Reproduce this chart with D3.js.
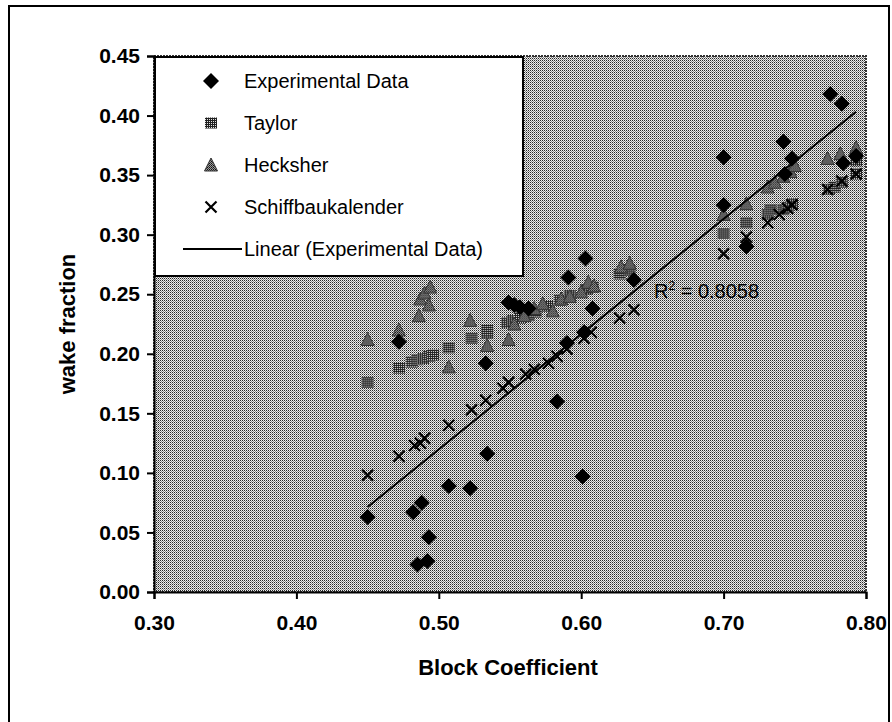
<!DOCTYPE html>
<html>
<head>
<meta charset="utf-8">
<script src="https://cdn.jsdelivr.net/npm/d3@7"></script>
<style>
  body { margin: 0; background: #fff; }
  svg { display: block; }
  text { font-family: "Liberation Sans", Arial, sans-serif; fill: #000; }
</style>
</head>
<body>
<svg id="chart" width="892" height="722"></svg>
<script>
// Axis ticks
const xTicks = [0.30, 0.40, 0.50, 0.60, 0.70, 0.80];
const yTicks = [0.00, 0.05, 0.10, 0.15, 0.20, 0.25, 0.30, 0.35, 0.40, 0.45];

// [block coefficient, wake fraction]
const experimental = [
  [0.450, 0.063], [0.482, 0.067], [0.488, 0.075], [0.493, 0.046], [0.485, 0.023],
  [0.492, 0.026], [0.472, 0.210], [0.507, 0.089], [0.522, 0.087], [0.533, 0.192],
  [0.534, 0.116], [0.549, 0.243], [0.553, 0.241], [0.557, 0.239], [0.563, 0.238],
  [0.583, 0.160], [0.590, 0.209], [0.591, 0.264], [0.601, 0.097], [0.602, 0.218],
  [0.603, 0.280], [0.608, 0.238], [0.637, 0.262], [0.700, 0.365], [0.700, 0.325],
  [0.716, 0.290], [0.742, 0.378], [0.743, 0.351], [0.748, 0.364], [0.775, 0.418],
  [0.783, 0.410], [0.784, 0.360], [0.793, 0.366]
];
const taylor = [
  [0.450, 0.176], [0.472, 0.188], [0.481, 0.193], [0.485, 0.195], [0.489, 0.196],
  [0.493, 0.198], [0.496, 0.199], [0.507, 0.205], [0.523, 0.213], [0.534, 0.217],
  [0.534, 0.220], [0.548, 0.226], [0.552, 0.228], [0.557, 0.230], [0.563, 0.232],
  [0.568, 0.235], [0.576, 0.240], [0.585, 0.245], [0.592, 0.249], [0.604, 0.254],
  [0.608, 0.256], [0.627, 0.267], [0.634, 0.270], [0.700, 0.301], [0.716, 0.310],
  [0.731, 0.317], [0.733, 0.321], [0.742, 0.321], [0.745, 0.323], [0.748, 0.326],
  [0.774, 0.338], [0.778, 0.340], [0.783, 0.344], [0.793, 0.351], [0.793, 0.362]
];
const heckscher = [
  [0.450, 0.212], [0.472, 0.220], [0.486, 0.232], [0.487, 0.246], [0.490, 0.251],
  [0.493, 0.241], [0.494, 0.256], [0.507, 0.189], [0.522, 0.228], [0.534, 0.207],
  [0.549, 0.212], [0.553, 0.225], [0.560, 0.232], [0.567, 0.238], [0.573, 0.242],
  [0.580, 0.236], [0.586, 0.246], [0.592, 0.248], [0.600, 0.252], [0.605, 0.260],
  [0.609, 0.257], [0.628, 0.273], [0.634, 0.276], [0.700, 0.317], [0.716, 0.326],
  [0.731, 0.340], [0.736, 0.344], [0.742, 0.349], [0.747, 0.353], [0.750, 0.358],
  [0.773, 0.364], [0.782, 0.368], [0.793, 0.373]
];
const schiffbau = [
  [0.450, 0.098], [0.472, 0.114], [0.483, 0.123], [0.487, 0.125], [0.490, 0.129],
  [0.507, 0.140], [0.523, 0.153], [0.533, 0.161], [0.545, 0.171], [0.549, 0.176],
  [0.561, 0.183], [0.567, 0.187], [0.577, 0.192], [0.583, 0.198], [0.590, 0.204],
  [0.602, 0.213], [0.607, 0.218], [0.627, 0.230], [0.637, 0.237], [0.700, 0.284],
  [0.716, 0.298], [0.731, 0.310], [0.739, 0.317], [0.745, 0.322], [0.748, 0.325],
  [0.773, 0.338], [0.783, 0.345], [0.793, 0.351]
];

// Linear trend of the experimental data: [slope, intercept]
const trendCoef = [0.9675, -0.364];

const legendLabels = ["Experimental Data", "Taylor", "Hecksher", "Schiffbaukalender", "Linear (Experimental Data)"];
const rSquaredText = "0.8058";

const svg = d3.select("#chart");
const plot = { left: 154, right: 866, top: 56, bottom: 592 };

const x = d3.scaleLinear().domain([0.30, 0.80]).range([plot.left, plot.right]);
const y = d3.scaleLinear().domain([0, 0.45]).range([plot.bottom, plot.top]);

// Dithered fills
const defs = svg.append("defs");
function pattern(id, bg, dots) {
  const p = defs.append("pattern").attr("id", id)
    .attr("width", 2).attr("height", 2).attr("patternUnits", "userSpaceOnUse");
  p.append("rect").attr("width", 2).attr("height", 2).attr("fill", bg);
  dots.forEach(([dx, dy, c]) => p.append("rect").attr("x", dx).attr("y", dy)
    .attr("width", 1).attr("height", 1).attr("fill", c));
}
pattern("plotFill", "#ececec", [[0, 0, "#262626"], [1, 1, "#8a8a8a"]]);
pattern("taylorFill", "#202020", [[0, 0, "#e0e0e0"]]);
pattern("heckFill", "#9a9a9a", [[0, 0, "#111111"], [1, 1, "#333333"]]);

// Outer frame
svg.append("path")
  .attr("d", "M9,722 L9,6 L889,6 L889,722")
  .attr("fill", "none").attr("stroke", "#000").attr("stroke-width", 2);

// Plot area
svg.append("rect")
  .attr("x", plot.left).attr("y", plot.top)
  .attr("width", plot.right - plot.left).attr("height", plot.bottom - plot.top)
  .attr("fill", "url(#plotFill)")
  .attr("stroke", "#333").attr("stroke-width", 2).attr("stroke-dasharray", "2,1");

// Axes
const yAxis = d3.axisLeft(y).tickValues(yTicks).tickFormat(d3.format(".2f"))
  .tickSize(7).tickPadding(7);
const xAxis = d3.axisBottom(x).tickValues(xTicks).tickFormat(d3.format(".2f"))
  .tickSize(7).tickPadding(16);

function styleAxis(g) {
  g.select(".domain").attr("stroke", "#000").attr("stroke-width", 2);
  g.selectAll(".tick line").attr("stroke", "#000").attr("stroke-width", 2);
  g.selectAll(".tick text").style("font-size", "21px").style("font-weight", "bold")
    .style("font-family", "'Liberation Sans', Arial, sans-serif").attr("fill", "#000");
}
svg.append("g").attr("transform", `translate(${plot.left},0)`).call(yAxis).call(styleAxis);
svg.append("g").attr("transform", `translate(0,${plot.bottom})`).call(xAxis).call(styleAxis);

// Axis titles
svg.append("text")
  .attr("transform", `translate(67,324) rotate(-90)`)
  .attr("text-anchor", "middle").attr("dy", "0.35em")
  .style("font-size", "22px").style("font-weight", "bold")
  .text("wake fraction");
svg.append("text")
  .attr("x", 508).attr("y", 675)
  .attr("text-anchor", "middle")
  .style("font-size", "22px").style("font-weight", "bold")
  .text("Block Coefficient");

// Marker shapes
const shapes = {
  diamond: g => g.append("path").attr("d", "M0,-8 L8,0 L0,8 L-8,0 Z").attr("fill", "#000"),
  square: g => g.append("rect").attr("x", -6).attr("y", -5.5).attr("width", 12).attr("height", 11)
    .attr("fill", "url(#taylorFill)"),
  triangle: g => g.append("path").attr("d", "M0,-7 L6.5,6 L-6.5,6 Z")
    .attr("fill", "url(#heckFill)").attr("stroke", "#333").attr("stroke-width", 1),
  cross: g => g.append("path").attr("d", "M-5.5,-5.5 L5.5,5.5 M-5.5,5.5 L5.5,-5.5")
    .attr("stroke", "#000").attr("stroke-width", 2.2).attr("fill", "none")
};

function drawSeries(data, shape) {
  const g = svg.append("g");
  g.selectAll("g").data(data).join("g")
    .attr("transform", d => `translate(${x(d[0])},${y(d[1])})`)
    .each(function () { shapes[shape](d3.select(this)); });
}
drawSeries(taylor, "square");
drawSeries(heckscher, "triangle");
drawSeries(schiffbau, "cross");
drawSeries(experimental, "diamond");

// Trend line over the range of the experimental data
const [x0, x1] = d3.extent(experimental, d => d[0]);
svg.append("path")
  .datum([x0, x1])
  .attr("d", d3.line().x(d => x(d)).y(d => y(trendCoef[0] * d + trendCoef[1])))
  .attr("stroke", "#000").attr("stroke-width", 2).attr("fill", "none");

// R² label
const r2 = svg.append("text").attr("x", 654).attr("y", 298).style("font-size", "20px").attr("fill", "#111");
r2.append("tspan").text("R");
r2.append("tspan").attr("dy", -8).style("font-size", "12px").text("2");
r2.append("tspan").attr("dy", 8).text(" = " + rSquaredText);

// Legend
const legend = svg.append("g");
legend.append("rect")
  .attr("x", 155).attr("y", 57).attr("width", 368).attr("height", 219)
  .attr("fill", "#fff").attr("stroke", "#000").attr("stroke-width", 2);
const rowY = [81, 123, 165, 207, 249];
const legendShapes = ["diamond", "square", "triangle", "cross"];
legendShapes.forEach((s, i) => {
  const g = legend.append("g").attr("transform", `translate(211,${rowY[i]})`);
  shapes[s](g);
});
legend.append("line")
  .attr("x1", 183).attr("x2", 242).attr("y1", rowY[4]).attr("y2", rowY[4])
  .attr("stroke", "#000").attr("stroke-width", 2);
legend.selectAll("text.lab").data(legendLabels).join("text")
  .attr("class", "lab")
  .attr("x", 244).attr("y", (d, i) => rowY[i]).attr("dy", "0.35em")
  .style("font-size", "20px")
  .text(d => d);
</script>
</body>
</html>
